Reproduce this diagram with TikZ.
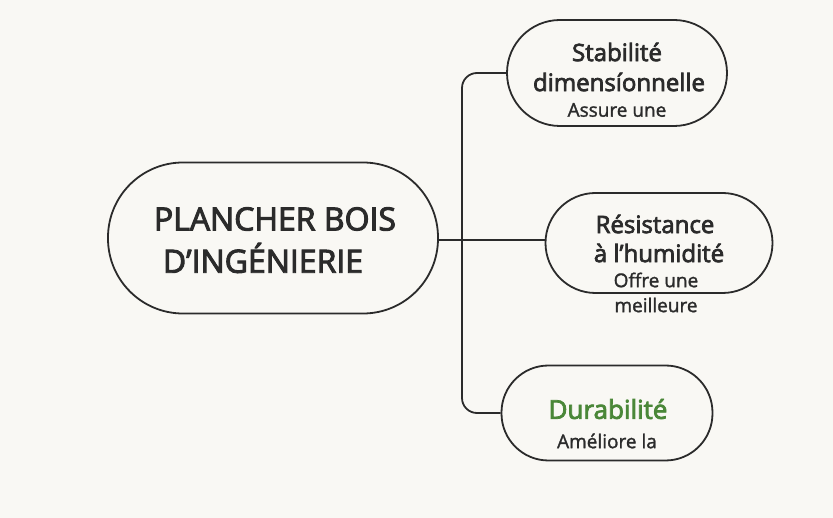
\documentclass[tikz,border=0pt]{standalone}
\usepackage{fontspec}
\setmainfont{Open Sans}
\newfontfamily\medfont{Open Sans}[FakeBold=3]
\newfontfamily\subfont{Open Sans}[FakeBold=1.5]
\definecolor{bg}{HTML}{F9F8F4}
\definecolor{ink}{HTML}{2B2B2B}
\definecolor{leaf}{HTML}{4A8738}
\begin{document}
\begin{tikzpicture}[x=1pt,y=-1pt,
  pill/.style={draw=ink, line width=1.8pt, fill=bg, rectangle, inner sep=0pt},
  conn/.style={draw=ink, line width=1.8pt, rounded corners=15pt},
  txt/.style={text=ink, inner sep=0pt, align=center},
  big/.style={txt, font=\medfont\fontsize{32}{39}\selectfont},
  ttl/.style={txt, font=\medfont\fontsize{24}{30}\selectfont},
  sub/.style={txt, font=\subfont\fontsize{19}{26}\selectfont}]
\fill[bg] (0,0) rectangle (833,518);
\useasboundingbox (0,0) rectangle (833,518);
% boxes
\node[pill, minimum width=330pt, minimum height=151pt, rounded corners=75pt] (main) at (273,238) {};
\node[pill, minimum width=220pt, minimum height=106pt, rounded corners=53pt] (n1) at (617,73) {};
\node[pill, minimum width=227pt, minimum height=100pt, rounded corners=50pt] (n2) at (659,243) {};
\node[pill, minimum width=211pt, minimum height=95pt, rounded corners=47pt] (n3) at (607,413) {};
% connectors
\coordinate (t) at (462,240);
\draw[conn] (main.east |- t) -- (n2.west |- t);
\draw[conn] (n1.west) -| (t) |- (n3.west);
% texts
\node[big] (m1) at (275,219) {PLANCHER BOIS};
\node[big] (m2) at (263,258) {D’INGÉNIERIE};
\node[ttl] (a1) at (617,52) {Stabilité};
\node[ttl] (a2) at (619,82) {dimensíonnelle};
\node[sub] (a3) at (617,110) {Assure une};
\node[ttl] (b1) at (655,224) {Résistance};
\node[ttl] (b2) at (659,253) {à l’humidité};
\node[sub] (b3) at (656,280) {Offre une};
\node[sub] (b4) at (656,305) {meilleure};
\node[ttl, text=leaf, font=\medfont\fontsize{26}{30}\selectfont] (c1) at (608,409) {Durabilité};
\node[sub] (c2) at (607,441) {Améliore la};
\end{tikzpicture}
\end{document}
